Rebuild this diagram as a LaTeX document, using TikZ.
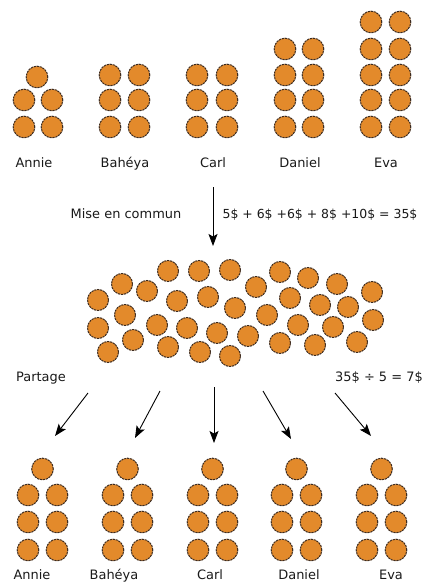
\documentclass[tikz,border=0pt]{standalone}
\usepackage{fontspec}
\setmainfont{DejaVu Sans}
\usetikzlibrary{arrows.meta}
\definecolor{coinfill}{HTML}{E38A2B}
\definecolor{coinedge}{HTML}{3D2B1F}
\begin{document}
\begin{tikzpicture}[x=1bp,y=-1bp,
  coin/.style={circle,inner sep=0pt,minimum size=21.6bp,fill=coinfill,draw=coinedge,line width=1bp,dash pattern=on 2.2bp off 0.8bp},
  lbl/.style={font=\fontsize{13}{15}\selectfont,inner sep=0pt,text=black!90,anchor=base},
  arr/.style={line width=0.9bp,-{Stealth[length=12bp,width=9bp,inset=2.5bp]}}]
\useasboundingbox (0,0) rectangle (427,583);
% top groups
\node[coin] (a1) at (37,77) {};
\foreach \x/\y [count=\i from 2] in {24/100,52/100,24/127,52/127}
  \node[coin] (a\i) at (\x,\y) {};
\foreach \x/\y [count=\i] in {110/75,139/75,110/100,139/100,110/127,139/127}
  \node[coin] (b\i) at (\x,\y) {};
\foreach \x/\y [count=\i] in {197/75,227/75,197/100,227/100,197/127,227/127}
  \node[coin] (c\i) at (\x,\y) {};
\foreach \x/\y [count=\i] in {285/49,313/49,285/75,313/75,285/100,313/100,285/127,313/127}
  \node[coin] (d\i) at (\x,\y) {};
\foreach \x/\y [count=\i] in {371/22,400/22,371/49,400/49,371/75,400/75,371/100,400/100,371/127,400/127}
  \node[coin] (e\i) at (\x,\y) {};
\node[lbl] (na) at (34,168) {Annie};
\node[lbl] (nb) at (125,168) {Bahéya};
\node[lbl] (nc) at (213,168) {Carl};
\node[lbl] (nd) at (300,168) {Daniel};
\node[lbl] (ne) at (386,168) {Eva};
% pooling arrow
\coordinate (m1) at (213,187);
\coordinate (m2) at (213,246);
\draw[arr] (m1) -- (m2);
\node[lbl] (mise) at (126,218) {Mise en commun};
\node[lbl,font=\fontsize{12.5}{15}\selectfont] (sum) at (320,218) {5\$ + 6\$ +6\$ + 8\$ +10\$ = 35\$};
% pool
\foreach \x/\y [count=\i] in {168/271,199/271,230/270,280/272,308/278,337/284,372/292,122/284,147/291,256/287,98/300,177/301,208/297,235/308,290/298,320/305,348/307,125/315,373/320,98/328,157/325,187/328,217/333,267/315,298/325,333/327,108/352,133/340,168/347,200/352,230/356,248/336,280/343,315/345,357/342}
  \node[coin,minimum size=21bp] (p\i) at (\x,\y) {};
\node[lbl] (part) at (41,381) {Partage};
\node[lbl] (div) at (379,381) {35\$ ÷ 5 = 7\$};
% sharing arrows
\coordinate (s1) at (88,393);  \coordinate (t1) at (55,436);
\coordinate (s2) at (160,391); \coordinate (t2) at (135,438);
\coordinate (s3) at (214,387); \coordinate (t3) at (214,443);
\coordinate (s4) at (263,391); \coordinate (t4) at (291,439);
\coordinate (s5) at (335,393); \coordinate (t5) at (371,436);
\foreach \i in {1,...,5} \draw[arr] (s\i) -- (t\i);
% bottom groups
\foreach \g/\l/\r [count=\k] in {A/28/57,B/113/142,C/198/227,D/282/311,E/367/396}{
  \node[coin] (\g0) at ({(\l+\r)/2},469) {};
  \node[coin] (\g1) at (\l,495) {};
  \node[coin] (\g2) at (\r,495) {};
  \node[coin] (\g3) at (\l,522) {};
  \node[coin] (\g4) at (\r,522) {};
  \node[coin] (\g5) at (\l,550) {};
  \node[coin] (\g6) at (\r,550) {};
}
\node[lbl] (ma) at (32,579) {Annie};
\node[lbl] (mb) at (114,579) {Bahéya};
\node[lbl] (mc) at (210,579) {Carl};
\node[lbl] (md) at (299,579) {Daniel};
\node[lbl] (me) at (391,579) {Eva};
\end{tikzpicture}
\end{document}
